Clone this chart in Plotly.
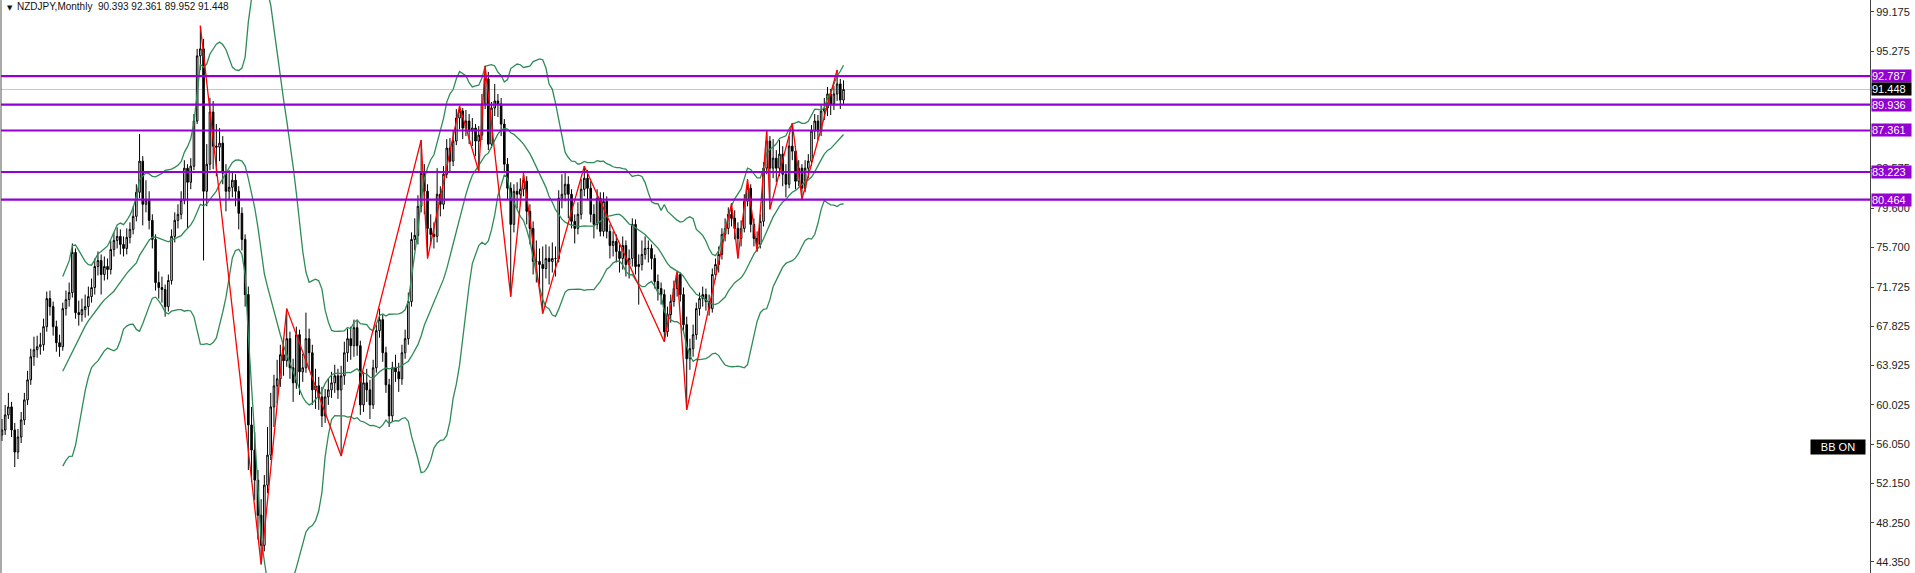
import pandas as pd
import plotly.graph_objects as go

# ---------------- data ----------------
months = [str(p) for p in pd.period_range("2002-05", periods=264, freq="M")]

first_open = 57.0
closes = [
    57.5, 59.0, 59.8, 57.5, 55.3, 56.8, 58.5, 60.5, 62.5, 64.8,
    65.5, 65.8, 66.0, 67.8, 70.6, 69.8, 67.8, 66.2, 65.8, 69.6,
    70.5, 71.2, 75.2, 69.2, 69.0, 69.5, 69.8, 70.8, 71.7, 73.8,
    74.4, 73.0, 73.8, 73.5, 75.5, 76.4, 76.8, 76.0, 75.6, 76.7,
    77.5, 78.8, 81.2, 84.3, 80.0, 80.4, 78.4, 76.5, 72.2, 71.7,
    71.5, 69.8, 72.4, 76.8, 78.4, 79.0, 80.4, 83.6, 82.2, 83.8,
    88.3, 94.8, 95.5, 81.3, 84.0, 89.2, 85.8, 85.7, 86.1, 83.1,
    81.3, 81.7, 82.4, 81.3, 79.1, 76.5, 71.0, 58.0, 55.5, 52.5,
    49.0, 46.0, 52.0, 55.0, 59.8, 61.9, 62.6, 65.0, 64.4, 66.6,
    63.7, 62.2, 67.0, 63.3, 63.7, 66.6, 65.2, 61.5, 61.9, 60.8,
    58.9, 60.8, 61.5, 62.2, 62.9, 61.5, 62.9, 65.2, 66.6, 65.9,
    67.7, 65.9, 60.0, 62.2, 61.5, 60.0, 63.7, 67.4, 68.5, 65.2,
    62.0, 58.9, 63.7, 63.3, 62.6, 65.2, 66.6, 70.3, 76.5, 76.9,
    79.8, 83.1, 81.3, 77.6, 77.0, 76.8, 81.0, 80.0, 83.0, 85.6,
    84.3, 86.3, 88.6, 89.3, 87.6, 88.3, 87.3, 87.6, 86.3, 86.9,
    90.0, 92.5, 86.0, 89.6, 90.3, 90.0, 88.0, 84.0, 81.6, 78.0,
    81.3, 81.0, 81.5, 82.3, 79.3, 77.6, 74.3, 74.3, 74.0, 73.6,
    74.6, 74.3, 74.6, 74.6, 80.6, 81.0, 82.0, 81.0, 78.3, 77.6,
    79.0, 81.5, 82.6, 81.6, 79.0, 78.0, 80.6, 77.3, 80.3, 77.3,
    75.9, 76.3, 75.3, 74.6, 75.9, 74.0, 74.6, 78.0, 73.8, 74.0,
    75.0, 75.6, 75.6, 74.6, 72.3, 71.6, 71.0, 67.3, 69.0, 70.3,
    71.6, 73.0, 71.0, 68.0, 64.6, 65.6, 67.0, 69.6, 70.6, 71.0,
    70.3, 69.6, 73.0, 74.0, 75.0, 77.0, 77.6, 79.0, 78.6, 77.6,
    76.6, 77.6, 80.3, 81.6, 78.0, 76.6, 76.0, 78.3, 83.6, 86.3,
    83.6, 84.6, 83.6, 85.0, 83.0, 82.0, 85.8, 85.3, 82.3, 83.6,
    81.6, 83.6, 84.3, 87.3, 88.3, 87.3, 89.3, 89.6, 91.0, 90.0,
    91.0, 92.0, 90.393, 91.448,
]
highs = [
    58.6, 60.0, 61.2, 60.3, 58.2, 57.6, 59.3, 61.2, 63.4, 65.6,
    66.8, 66.9, 67.2, 68.6, 71.3, 71.4, 70.3, 68.4, 67.0, 70.2,
    71.4, 72.2, 76.1, 75.6, 70.4, 70.6, 71.0, 71.8, 72.6, 74.6,
    75.3, 75.0, 74.8, 74.6, 76.4, 77.2, 77.7, 77.5, 76.8, 77.6,
    78.2, 79.8, 82.0, 87.0, 84.8, 82.4, 81.3, 79.0, 77.0, 73.3,
    72.8, 72.0, 73.0, 77.5, 79.2, 80.0, 81.3, 84.4, 84.0, 84.6,
    89.0, 95.5, 97.8, 96.5, 86.0, 90.6, 90.3, 88.0, 87.6, 86.8,
    84.0, 83.4, 83.2, 83.0, 81.8, 79.7, 77.0, 71.8, 59.8, 57.3,
    53.5, 50.6, 53.0, 57.8, 61.2, 63.0, 64.5, 66.0, 66.7, 69.6,
    67.3, 64.6, 67.8, 67.5, 65.1, 69.2, 67.6, 66.0, 63.6, 62.8,
    61.8, 61.6, 62.6, 63.3, 64.0, 63.6, 63.9, 66.3, 67.6, 67.8,
    68.5, 68.4, 66.4, 63.3, 63.6, 62.5, 64.5, 68.0, 69.6, 69.0,
    65.8, 62.6, 64.3, 65.0, 64.2, 66.0, 67.5, 71.2, 77.2, 78.6,
    80.9, 86.4, 84.0, 82.0, 79.0, 78.2, 83.6, 81.8, 83.8, 86.5,
    86.6, 87.3, 89.5, 89.8, 89.6, 89.4, 89.0, 88.6, 88.0, 87.8,
    91.0, 93.8, 93.2, 90.2, 92.0, 91.0, 90.6, 88.5, 84.6, 82.2,
    82.0, 82.2, 82.6, 83.1, 82.8, 80.0, 78.3, 76.4, 75.6, 75.8,
    76.0, 75.8, 76.2, 75.8, 81.4, 83.0, 83.2, 82.8, 81.5, 79.0,
    80.2, 82.5, 83.8, 83.4, 82.3, 80.0, 81.5, 81.2, 81.2, 80.8,
    78.0, 77.3, 77.0, 76.0, 76.8, 76.4, 75.5, 78.6, 78.5, 75.0,
    76.4, 76.8, 76.4, 76.0, 75.0, 73.0, 72.2, 71.5, 69.8, 71.0,
    72.4, 73.3, 73.2, 71.7, 68.8, 66.6, 68.0, 70.2, 71.2, 71.8,
    71.6, 71.0, 73.6, 74.6, 75.8, 77.6, 78.6, 79.7, 80.1, 79.4,
    78.2, 78.4, 81.0, 82.5, 82.0, 78.6, 77.3, 79.0, 84.2, 87.3,
    86.8, 86.5, 85.4, 86.4, 85.8, 84.0, 86.8, 88.1, 85.8, 84.4,
    84.0, 84.4, 85.0, 87.9, 89.0, 88.9, 89.9, 90.6, 91.7, 91.5,
    91.8, 93.4, 92.5, 92.361,
]
lows = [
    56.4, 57.0, 58.6, 56.8, 53.8, 54.6, 56.2, 58.0, 60.0, 62.0,
    63.9, 64.7, 65.0, 65.4, 67.3, 68.9, 66.9, 65.3, 64.8, 65.4,
    68.9, 69.8, 70.7, 68.6, 67.9, 68.3, 68.7, 68.9, 70.2, 71.0,
    72.9, 71.0, 72.4, 72.5, 73.0, 74.8, 75.6, 75.0, 74.8, 75.0,
    76.1, 77.0, 78.3, 80.6, 77.9, 79.2, 77.5, 75.6, 71.4, 70.6,
    70.2, 68.8, 69.3, 72.0, 76.2, 77.6, 78.5, 80.0, 77.6, 81.5,
    83.4, 88.0, 93.4, 74.4, 79.8, 83.4, 83.5, 82.8, 84.3, 82.0,
    79.3, 80.5, 80.7, 79.8, 77.5, 75.4, 69.8, 53.5, 52.3, 50.5,
    46.6, 44.1, 45.4, 51.2, 54.5, 57.8, 60.2, 61.8, 62.9, 63.8,
    62.6, 60.3, 61.6, 61.0, 62.3, 63.2, 63.5, 60.0, 59.6, 59.5,
    57.8, 58.2, 60.0, 60.7, 61.2, 60.6, 54.9, 62.0, 64.3, 64.5,
    64.8, 64.9, 59.0, 59.3, 60.3, 58.6, 59.6, 63.2, 66.7, 64.3,
    61.2, 57.8, 58.3, 62.3, 61.3, 62.0, 64.6, 66.0, 69.8, 75.4,
    76.0, 79.2, 79.0, 74.6, 76.0, 75.6, 76.2, 78.8, 79.5, 82.6,
    83.2, 83.8, 85.9, 87.5, 86.5, 86.8, 86.0, 85.8, 84.8, 83.3,
    86.4, 89.5, 85.4, 85.6, 88.8, 88.7, 86.8, 83.2, 80.5, 70.8,
    77.2, 79.6, 80.0, 80.8, 78.0, 76.0, 73.0, 72.2, 72.0, 69.1,
    72.6, 72.0, 73.2, 72.8, 74.2, 79.6, 80.3, 78.6, 77.6, 76.1,
    77.0, 78.5, 80.8, 80.4, 78.2, 76.6, 77.5, 76.8, 76.8, 76.6,
    74.6, 74.8, 74.2, 73.2, 73.5, 72.8, 72.6, 73.8, 73.0, 70.0,
    73.4, 74.5, 74.2, 73.5, 71.6, 70.4, 70.0, 66.3, 66.8, 68.2,
    69.8, 70.8, 70.3, 67.2, 59.5, 63.5, 64.8, 66.5, 68.9, 69.8,
    69.4, 68.9, 69.2, 72.5, 73.2, 74.5, 76.3, 77.0, 77.8, 76.5,
    74.6, 75.8, 77.2, 79.8, 77.2, 75.8, 75.3, 75.6, 77.8, 83.0,
    79.5, 82.6, 82.2, 82.8, 81.8, 80.7, 81.6, 84.4, 81.5, 81.8,
    80.5, 81.2, 82.6, 83.8, 86.5, 86.4, 86.8, 88.4, 88.8, 88.9,
    89.4, 90.3, 89.5, 89.952,
]
# each month opens where the previous one closed
opens = [first_open] + closes[:-1]

# ZigZag swing points (bar index, price)
zz_idx = [62, 81, 89, 106, 131, 133, 143, 149, 151, 159, 163, 169, 182,
          207, 211, 214, 228, 230, 233, 236, 239, 240, 247, 250, 261]
zz_val = [97.8, 44.1, 69.6, 54.9, 86.4, 74.6, 89.8, 83.3, 93.8, 70.8, 83.1,
          69.1, 83.8, 66.3, 73.3, 59.5, 80.1, 74.6, 82.5, 75.3, 87.3, 79.5,
          88.1, 80.5, 93.4]

levels = [92.787, 89.936, 87.361, 83.223, 80.464]
last_price = 91.448

tick_vals = [99.175, 95.275, 83.575, 79.600, 75.700, 71.725,
             67.825, 63.925, 60.025, 56.050, 52.150, 48.250, 44.350]

bb_period = 20
bb_dev = 2.0

assert len(closes) == len(highs) == len(lows) == len(months)

# ---------------- figure ----------------
x = list(range(len(closes)))
s = pd.Series(closes)
mid = s.rolling(bb_period).mean()
sd = s.rolling(bb_period).std(ddof=0)
upper = mid + bb_dev * sd
lower = mid - bb_dev * sd

fig = go.Figure()
fig.add_trace(go.Candlestick(
    x=x, open=opens, high=highs, low=lows, close=closes,
    text=months, hoverinfo="text+y",
    increasing=dict(line=dict(color="#000000", width=1), fillcolor="#ffffff"),
    decreasing=dict(line=dict(color="#000000", width=1), fillcolor="#000000"),
    whiskerwidth=0,
))
bb_green = "#2e8b57"
for band in (upper, mid, lower):
    fig.add_trace(go.Scatter(x=x, y=band, mode="lines",
                             line=dict(color=bb_green, width=1.3),
                             hoverinfo="skip"))
fig.add_trace(go.Scatter(x=zz_idx, y=zz_val, mode="lines",
                         line=dict(color="#ff0000", width=1.3),
                         hoverinfo="skip"))

shapes = []
shapes.append(dict(type="line", xref="paper", x0=0, x1=1, yref="y",
                   y0=last_price, y1=last_price, layer="below",
                   line=dict(color="#c8c8c8", width=1)))
for lv in levels:
    shapes.append(dict(type="line", xref="paper", x0=0, x1=1, yref="y",
                       y0=lv, y1=lv, layer="above",
                       line=dict(color="#9400d3", width=2.2)))
shapes.append(dict(type="line", xref="paper", x0=0, x1=0, yref="paper",
                   y0=0, y1=1, line=dict(color="#555555", width=1)))

label_font = dict(family="Liberation Sans", size=11, color="#ffffff")
annotations = []
for lv in levels:
    annotations.append(dict(
        xref="paper", x=1, xanchor="left", xshift=1, yref="y", y=lv,
        yanchor="middle", text=f"{lv:.3f}", showarrow=False,
        bgcolor="#9400d3", font=label_font,
        width=39, height=12, align="left", borderpad=0))
annotations.append(dict(
    xref="paper", x=1, xanchor="left", xshift=1, yref="y", y=last_price,
    yanchor="middle", text=f"{last_price:.3f}", showarrow=False,
    bgcolor="#000000", font=label_font,
    width=39, height=12, align="left", borderpad=0))
annotations.append(dict(
    xref="paper", x=0.0022, xanchor="left", yref="paper", y=1, yanchor="top",
    yshift=-2, text="▼", showarrow=False,
    font=dict(family="DejaVu Sans", size=7, color="#111111")))
annotations.append(dict(
    xref="paper", x=0.0075, xanchor="left", yref="paper", y=1, yanchor="top",
    yshift=1, text="NZDJPY,Monthly  90.393 92.361 89.952 91.448", showarrow=False,
    font=dict(family="Liberation Sans", size=10, color="#111111")))
annotations.append(dict(
    xref="paper", x=0.9979, xanchor="right", yref="y", y=55.8, yanchor="middle",
    text="BB ON", showarrow=False, bgcolor="#000000", borderpad=1,
    width=52, height=12,
    font=dict(family="Liberation Sans", size=11, color="#ffffff")))

fig.update_layout(
    width=1915, height=573,
    margin=dict(l=1, r=45, t=0, b=0),
    paper_bgcolor="#ffffff", plot_bgcolor="#ffffff",
    showlegend=False,
    shapes=shapes, annotations=annotations,
    xaxis=dict(range=[-0.3, 583.8], visible=False,
               rangeslider=dict(visible=False), fixedrange=True),
    yaxis=dict(side="right", range=[43.24, 100.37],
               tickvals=tick_vals, ticktext=[f"{v:.3f}" for v in tick_vals],
               showgrid=False, zeroline=False, showline=True,
               linecolor="#444444", linewidth=1, ticks="outside", ticklen=3,
               tickcolor="#444444",
               tickfont=dict(family="Liberation Sans", size=11, color="#222222"),
               fixedrange=True),
)

fig.write_html("out.html", config={"displayModeBar": False},
               post_script="document.body.style.margin='0';"
                           "document.body.style.overflow='hidden';")
